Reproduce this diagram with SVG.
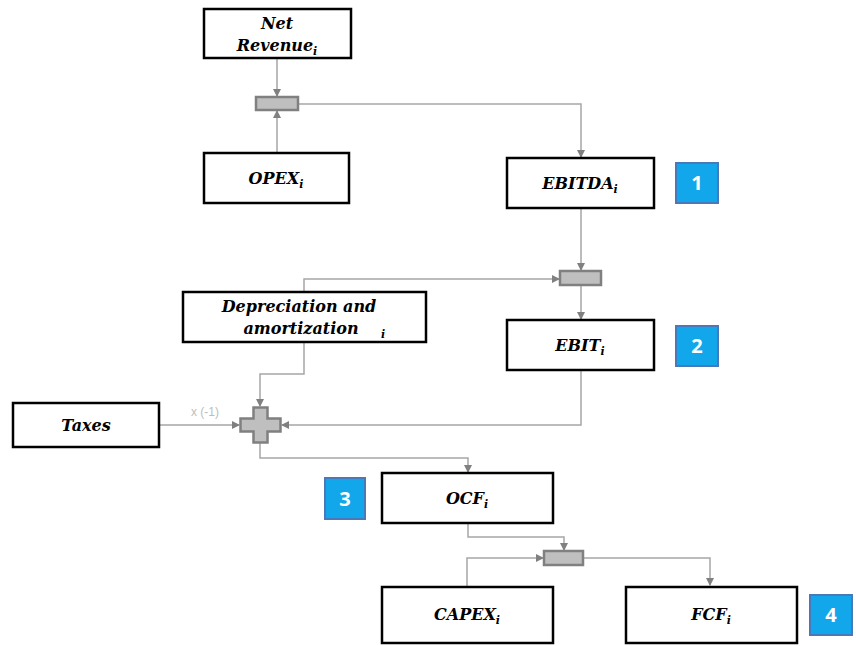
<svg xmlns="http://www.w3.org/2000/svg" width="856" height="646" viewBox="0 0 856 646">
<defs>
<marker id="ah" markerWidth="8" markerHeight="8" refX="7" refY="4" orient="auto" markerUnits="userSpaceOnUse">
<path d="M0,0 L8,4 L0,8 Z" fill="#808080"/>
</marker>
<style>
.box{fill:#fff;stroke:#000;stroke-width:2.5}
.lbl{font-family:"DejaVu Serif","Liberation Serif",serif;font-weight:bold;font-style:italic;font-size:16px;fill:#000;text-anchor:middle}
.sub{font-size:11px}
.con{fill:none;stroke:#a6a6a6;stroke-width:1.5;marker-end:url(#ah)}
.mrg{fill:#bfbfbf;stroke:#808080;stroke-width:2.5}
.badge{fill:#12a7ea;stroke:#4a78b8;stroke-width:2}
.bt{font-family:"Open Sans","Liberation Sans",sans-serif;font-weight:bold;font-size:20px;fill:#fff;text-anchor:middle}
.note{font-family:"Liberation Sans",sans-serif;font-size:12px;fill:#bdbdbd}
</style>
</defs>
<rect width="856" height="646" fill="#fff"/>

<g id="connectors">
<path class="con" d="M277,58 V96"/>
<path class="con" d="M277,153 V111"/>
<path class="con" d="M298,104 H581 V157"/>
<path class="con" d="M581,208 V270"/>
<path class="con" d="M304,292 V279 H559"/>
<path class="con" d="M581,285 V319"/>
<path class="con" d="M304,342 V374 H260 V406"/>
<path class="con" d="M159,425 H239"/>
<path class="con" d="M581,370 V425 H282"/>
<path class="con" d="M260,443 V458 H468 V472"/>
<path class="con" d="M468,523 V537 H564 V550"/>
<path class="con" d="M467,587 V558 H543"/>
<path class="con" d="M584,558 H710 V585"/>
<text class="note" x="205" y="416" text-anchor="middle">x (-1)</text>
</g>

<g id="merge1"><rect class="mrg" x="256" y="97" width="42" height="13"/></g>
<g id="merge2"><rect class="mrg" x="560" y="271" width="41" height="14"/></g>
<g id="merge3"><rect class="mrg" x="544" y="551" width="39" height="14"/></g>
<g id="cross"><path class="mrg" d="M253.5,407.5 H267.5 V418.5 H280.5 V431.5 H267.5 V442.5 H253.5 V431.5 H240.5 V418.5 H253.5 Z"/></g>

<g id="netrevenue">
<rect class="box" x="204" y="9" width="147" height="49"/>
<text class="lbl" x="277" y="29">Net</text>
<text class="lbl" x="277" y="51">Revenue<tspan class="sub" dy="4">i</tspan></text>
</g>
<g id="opex">
<rect class="box" x="204" y="153" width="145" height="50"/>
<text class="lbl" x="276" y="184">OPEX<tspan class="sub" dy="4">i</tspan></text>
</g>
<g id="ebitda">
<rect class="box" x="507" y="158" width="147" height="50"/>
<text class="lbl" x="580" y="189">EBITDA<tspan class="sub" dy="4">i</tspan></text>
</g>
<g id="badge1">
<rect class="badge" x="676" y="163" width="42" height="40"/>
<text class="bt" x="697" y="190">1</text>
</g>
<g id="depreciation">
<rect class="box" x="183" y="292" width="243" height="50"/>
<text class="lbl" x="299" y="312">Depreciation and</text>
<text class="lbl" x="301" y="334">amortization</text>
<text class="lbl sub" x="383" y="338">i</text>
</g>
<g id="ebit">
<rect class="box" x="507" y="320" width="147" height="50"/>
<text class="lbl" x="580" y="351">EBIT<tspan class="sub" dy="4">i</tspan></text>
</g>
<g id="badge2">
<rect class="badge" x="676" y="326" width="42" height="40"/>
<text class="bt" x="697" y="353">2</text>
</g>
<g id="taxes">
<rect class="box" x="13" y="403" width="146" height="44"/>
<text class="lbl" x="86" y="431">Taxes</text>
</g>
<g id="ocf">
<rect class="box" x="382" y="473" width="171" height="50"/>
<text class="lbl" x="467" y="504">OCF<tspan class="sub" dy="4">i</tspan></text>
</g>
<g id="badge3">
<rect class="badge" x="325" y="478" width="40" height="41"/>
<text class="bt" x="345" y="506">3</text>
</g>
<g id="capex">
<rect class="box" x="382" y="587" width="171" height="56"/>
<text class="lbl" x="467" y="620">CAPEX<tspan class="sub" dy="4">i</tspan></text>
</g>
<g id="fcf">
<rect class="box" x="626" y="587" width="171" height="56"/>
<text class="lbl" x="711" y="620">FCF<tspan class="sub" dy="4">i</tspan></text>
</g>
<g id="badge4">
<rect class="badge" x="810" y="595" width="42" height="40"/>
<text class="bt" x="831" y="622">4</text>
</g>
</svg>
